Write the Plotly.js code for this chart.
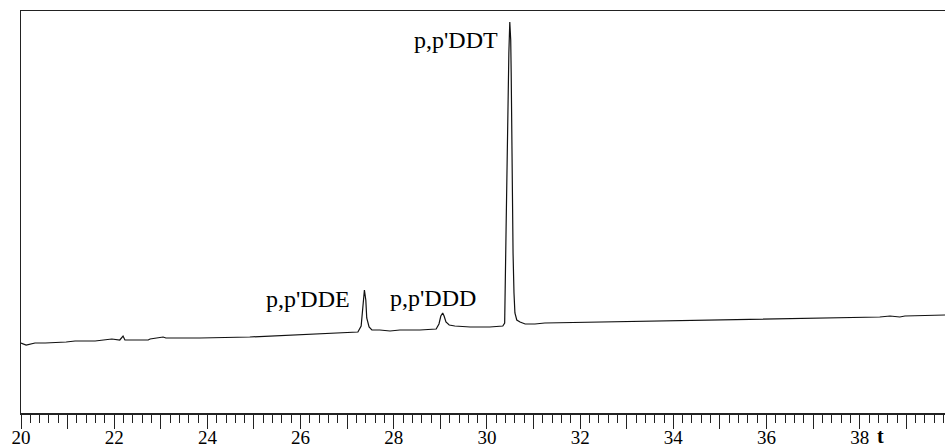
<!DOCTYPE html>
<html>
<head>
<meta charset="utf-8">
<script src="https://cdn.plot.ly/plotly-3.0.1.min.js"></script>
<style>html,body{margin:0;padding:0;background:#fff;}#chart{width:945px;height:448px;}</style>
</head>
<body>
<div id="chart"></div>
<script>
// Retention time (min)
const time = [20.00,20.11,20.30,20.52,20.97,21.16,21.59,21.87,21.95,22.12,22.19,22.23,22.73,22.77,22.98,23.05,23.11,23.84,24.91,25.99,27.06,27.23,27.30,27.34,27.37,27.40,27.42,27.47,27.53,27.70,27.92,28.13,28.56,28.91,28.97,29.01,29.05,29.08,29.12,29.19,29.31,29.64,29.85,30.06,30.34,30.38,30.41,30.43,30.45,30.47,30.49,30.51,30.52,30.54,30.56,30.58,30.60,30.64,30.71,30.82,31.03,31.24,32.42,34.57,36.72,38.43,38.65,38.86,38.97,39.83];
// Detector signal (arbitrary units)
const signal = [70,68,70,70,71,72,72,73,74,73,77,73,73,74,75,76,75,75,76,78,80,81,87,113,123,113,95,86,83,83,82,83,83,84,89,97,100,97,91,88,87,86,86,86,87,90,183,263,316,360,391,373,340,236,160,120,100,93,91,89,89,90,91,93,95,96,97,96,97,98];
// Peak labels
const peakNames = ["p,p'DDE","p,p'DDD","p,p'DDT"];
const peakLabelX = [26.16,28.84,29.33];
const peakLabelY = [114,115,373];
// Axis ticks
const majorTicks = [20,21,22,23,24,25,26,27,28,29,30,31,32,33,34,35,36,37,38,39];
const tickLabels = ["20","","22","","24","","26","","28","","30","","32","","34","","36","","38",""];

const serif = "'Liberation Serif', 'Times New Roman', serif";

const annotations = peakNames.map((n,i)=>({
  x: peakLabelX[i], y: peakLabelY[i], xref:'x', yref:'y', text:n, showarrow:false,
  xanchor:'center', yanchor:'middle',
  font:{family:serif,size:24,color:'#000'}
}));
annotations.push({x:0.9307,y:-0.057,xref:'paper',yref:'paper',text:'<b>t</b>',showarrow:false,
  xanchor:'center', yanchor:'middle', borderpad:0,
  font:{family:serif,size:20,color:'#000'}});

Plotly.newPlot('chart',[{
  x: time, y: signal, type:'scatter', mode:'lines',
  line:{color:'#111',width:1.2}, hoverinfo:'skip'
}],{
  width:945,height:448,
  margin:{l:21,r:0,t:11,b:35},
  paper_bgcolor:'#fff',plot_bgcolor:'#fff',
  showlegend:false,
  font:{family:serif,color:'#000'},
  xaxis:{range:[20,39.83],showgrid:false,zeroline:false,
    showline:true,linecolor:'#222',linewidth:1.5,mirror:true,
    tickmode:'array',tickvals:majorTicks,ticktext:tickLabels,
    ticks:'outside',ticklen:14,tickwidth:1,tickcolor:'#222',
    ticklabelstandoff:-7,
    tickfont:{family:serif,size:19,color:'#000'},
    minor:{tickmode:'linear',tick0:20,dtick:0.2,ticks:'outside',ticklen:8,tickwidth:1,tickcolor:'#222',showgrid:false}
  },
  yaxis:{range:[0,402],showgrid:false,zeroline:false,showticklabels:false,ticks:'',
    showline:true,linecolor:'#222',linewidth:1.5,mirror:false},
  annotations:annotations
},{staticPlot:true,displayModeBar:false});
</script>
</body>
</html>
